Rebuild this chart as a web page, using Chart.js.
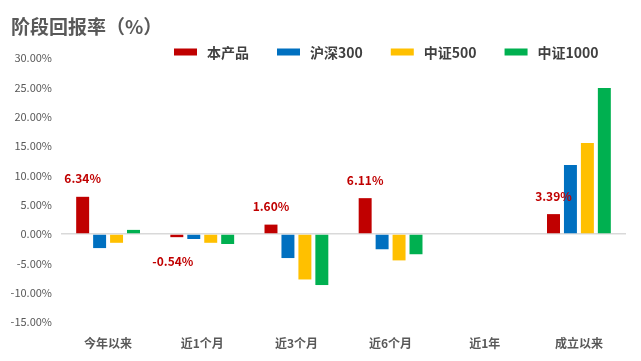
<!DOCTYPE html>
<html>
<head>
<meta charset="utf-8">
<script src="https://cdn.jsdelivr.net/npm/chart.js@4.4.1/dist/chart.umd.min.js"></script>
<style>
html,body{margin:0;padding:0;background:#fff;}
#wrap{width:641px;height:361px;position:relative;}
</style>
</head>
<body>
<div id="wrap"><canvas id="c" width="641" height="361"></canvas></div>
<script>
const titleText = '阶段回报率（%）';
const categories = ['今年以来','近1个月','近3个月','近6个月','近1年','成立以来'];
const seriesNames = ['本产品','沪深300','中证500','中证1000'];
const productValues = [6.34, -0.54, 1.60, 6.11, null, 3.39];
const hs300Values   = [-2.40, -0.85, -4.10, -2.60, null, 11.75];
const zz500Values   = [-1.50, -1.50, -7.75, -4.50, null, 15.50];
const zz1000Values  = [0.70, -1.70, -8.70, -3.45, null, 24.90];
const yTicksMin = -15, yTicksMax = 30, yTickStep = 5;

const colors = ['#C00000','#0070C0','#FFC000','#00B050'];
const FONT = '"Noto Sans CJK SC", "Microsoft YaHei", sans-serif';
const allValues = [productValues, hs300Values, zz500Values, zz1000Values];

const overlay = {
  id: 'overlay',
  afterDraw(chart) {
    const ctx = chart.ctx;
    ctx.save();
    // title
    ctx.fillStyle = '#595959';
    ctx.font = 'bold 19px ' + FONT;
    ctx.textAlign = 'left';
    ctx.textBaseline = 'middle';
    ctx.fillText(titleText, 11, 27);
    // legend
    ctx.font = 'bold 14px ' + FONT;
    let x = 174;
    const cy = 52;
    chart.data.datasets.forEach((ds, i) => {
      ctx.fillStyle = ds.backgroundColor;
      ctx.fillRect(x, cy - 3.5, 23, 7);
      x += 23 + 10;
      ctx.fillStyle = '#404040';
      ctx.fillText(ds.label, x, cy + 1);
      x += ctx.measureText(ds.label).width + 28;
    });
    // data labels for product series
    const meta = chart.getDatasetMeta(0);
    ctx.font = 'bold 12px ' + FONT;
    ctx.fillStyle = '#C00000';
    ctx.textAlign = 'center';
    meta.data.forEach((bar, j) => {
      const v = productValues[j];
      if (v === null || v === undefined) return;
      const txt = v.toFixed(2) + '%';
      if (v >= 0) ctx.fillText(txt, bar.x, bar.y - 18);
      else ctx.fillText(txt, bar.x - 4, bar.y + 24);
    });
    ctx.restore();
  }
};

new Chart(document.getElementById('c'), {
  type: 'bar',
  data: {
    labels: categories,
    datasets: seriesNames.map((n, i) => ({
      label: n,
      data: allValues[i],
      backgroundColor: colors[i],
      borderWidth: 0,
      categoryPercentage: 0.72,
      barPercentage: 0.765
    }))
  },
  options: {
    responsive: false,
    animation: false,
    devicePixelRatio: 1,
    layout: { padding: { top: 58, right: 15, bottom: 0, left: 0 } },
    plugins: {
      legend: { display: false },
      title: { display: false },
      tooltip: { enabled: false }
    },
    scales: {
      x: {
        afterFit(scale) { scale.height = 39; },
        grid: { display: false, drawTicks: false },
        border: { display: false },
        ticks: {
          color: '#595959',
          font: { family: FONT, size: 12, weight: 'bold' },
          padding: 14,
          maxRotation: 0
        }
      },
      y: {
        min: yTicksMin,
        max: yTicksMax,
        afterFit(scale) { scale.width = 61; },
        border: { display: false },
        grid: {
          drawTicks: false,
          color: c => (c.tick && c.tick.value === 0) ? '#D9D9D9' : 'rgba(0,0,0,0)',
          lineWidth: 1.5
        },
        ticks: {
          stepSize: yTickStep,
          color: '#595959',
          padding: 9,
          font: { family: FONT, size: 11 },
          callback: v => v.toFixed(2) + '%'
        }
      }
    }
  },
  plugins: [overlay]
});
</script>
</body>
</html>
